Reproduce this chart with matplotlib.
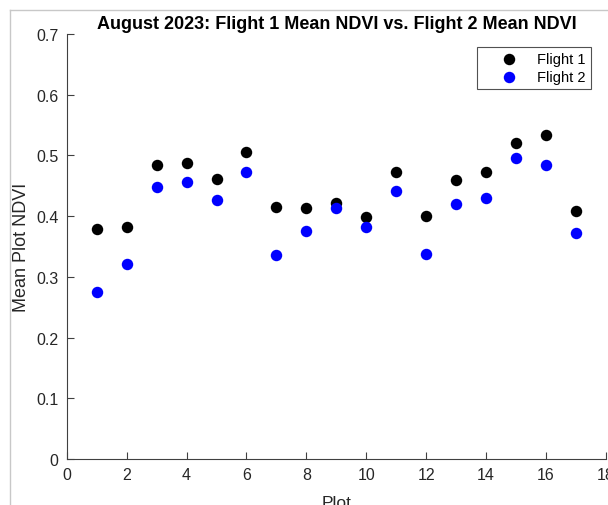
import matplotlib
matplotlib.use("Agg")
import matplotlib.pyplot as plt
from matplotlib.lines import Line2D

plt.rcParams['font.family'] = ['Liberation Sans', 'DejaVu Sans']

plots = list(range(1, 18))
flight1 = [0.379, 0.382, 0.484, 0.488, 0.461, 0.505, 0.415, 0.414, 0.421,
           0.398, 0.472, 0.400, 0.459, 0.472, 0.520, 0.533, 0.409]
flight2 = [0.275, 0.322, 0.448, 0.456, 0.426, 0.472, 0.336, 0.376, 0.413,
           0.382, 0.441, 0.337, 0.420, 0.430, 0.495, 0.485, 0.372]
x_ticks = list(range(0, 19, 2))
y_ticks = [0, 0.1, 0.2, 0.3, 0.4, 0.5, 0.6, 0.7]

fig = plt.figure(figsize=(6.08, 5.06), dpi=100)
ax = fig.add_axes([0.1097, 0.0909, 0.8870, 0.8399])

ax.scatter(plots, flight1, s=68, color='black', label='Flight 1', zorder=3, linewidths=0)
ax.scatter(plots, flight2, s=68, color='#0000ff', label='Flight 2', zorder=3, linewidths=0)

ax.set_xlim(0, 18)
ax.set_ylim(0, 0.7)
ax.set_xticks(x_ticks)
ax.set_yticks(y_ticks)
ax.set_yticklabels(['0', '0.1', '0.2', '0.3', '0.4', '0.5', '0.6', '0.7'])

axis_color = '#404040'
for side in ('top', 'right'):
    ax.spines[side].set_visible(False)
for side in ('left', 'bottom'):
    ax.spines[side].set_color(axis_color)
    ax.spines[side].set_linewidth(0.8)
ax.tick_params(direction='in', length=5, width=0.8, color=axis_color,
               labelcolor='#262626', labelsize=11.5, pad=6)

ax.set_title('August 2023: Flight 1 Mean NDVI vs. Flight 2 Mean NDVI',
             fontsize=13, fontweight='bold', pad=4)
ax.set_xlabel('Plot', fontsize=12.5, color='#262626', labelpad=9)
ax.set_ylabel('Mean Plot NDVI', fontsize=13, color='#262626', labelpad=4)

leg = ax.legend(loc='upper right', fontsize=10.5, frameon=True, fancybox=False,
                edgecolor='#262626', borderpad=0.38, handletextpad=0.1,
                handlelength=3.6, labelspacing=0.25, borderaxespad=0,
                bbox_to_anchor=(0.972, 0.970))
leg.get_frame().set_linewidth(0.8)

# window border lines
fig.add_artist(Line2D([10 / 608, 1], [1 - 11 / 506, 1 - 11 / 506],
                      transform=fig.transFigure, color='#c8c8c8', lw=1))
fig.add_artist(Line2D([10 / 608, 10 / 608], [0, 1 - 11 / 506],
                      transform=fig.transFigure, color='#c8c8c8', lw=1))

fig.savefig('out.png', dpi=100)
